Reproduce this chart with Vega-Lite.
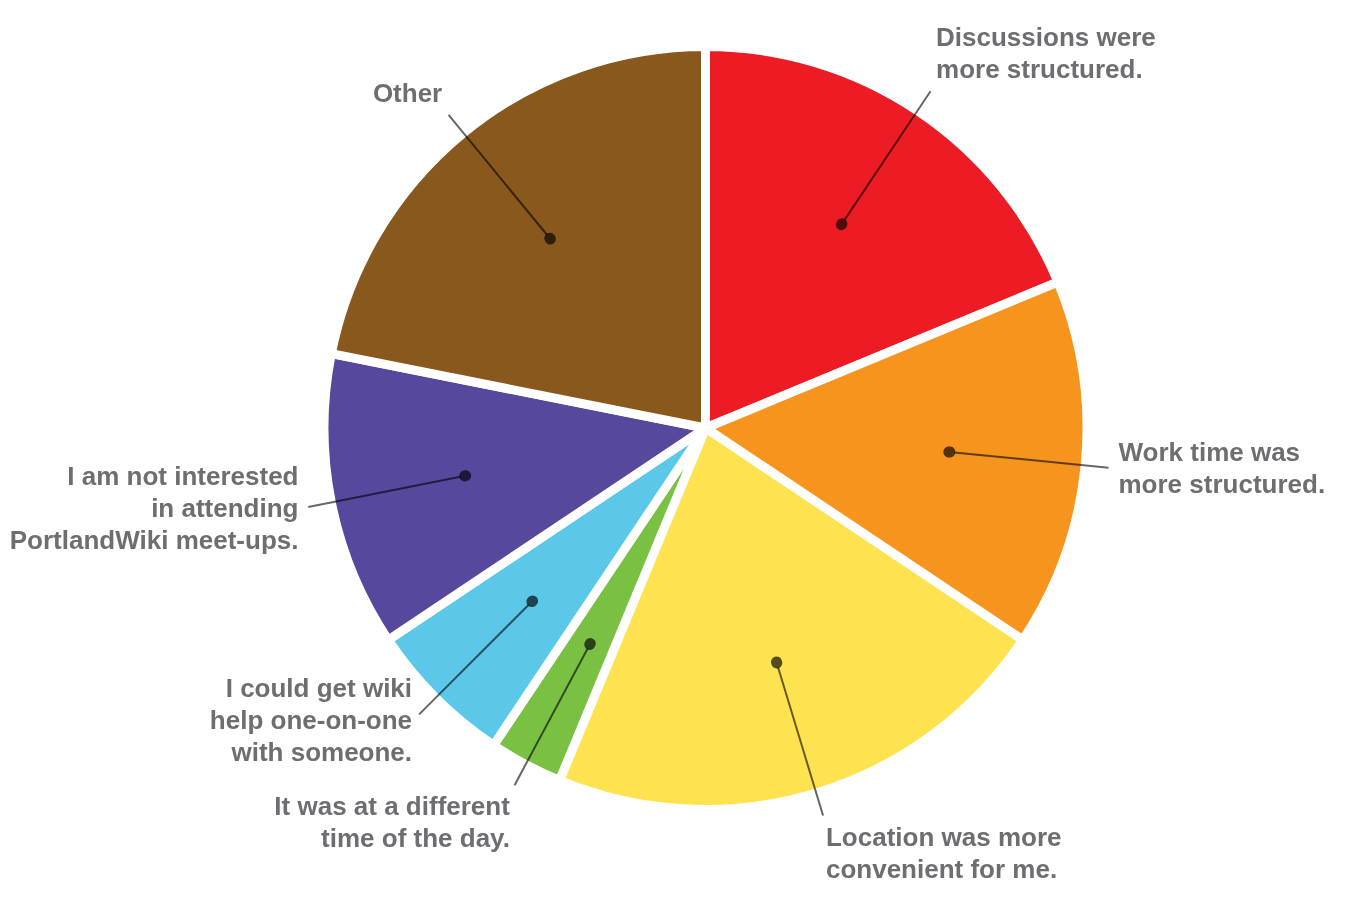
{
  "$schema": "https://vega.github.io/schema/vega-lite/v6.json",
  "width": 760,
  "height": 760,
  "autosize": {"type": "none"},
  "padding": {"left": 325.5, "top": 48, "right": 263.5, "bottom": 95},
  "background": "white",
  "config": {"view": {"stroke": null}},
  "data": {
    "values": [
      {"reason": "Discussions were\nmore structured.", "count": 6},
      {"reason": "Work time was\nmore structured.", "count": 5},
      {"reason": "Location was more\nconvenient for me.", "count": 7},
      {"reason": "It was at a different\ntime of the day.", "count": 1},
      {"reason": "I could get wiki\nhelp one-on-one\nwith someone.", "count": 2},
      {"reason": "I am not interested\nin attending\nPortlandWiki meet-ups.", "count": 4},
      {"reason": "Other", "count": 7}
    ]
  },
  "transform": [
    {"window": [{"op": "row_number", "as": "rank"}]}
  ],
  "encoding": {
    "theta": {"field": "count", "type": "quantitative", "stack": true},
    "order": {"field": "rank", "type": "quantitative", "sort": "ascending"},
    "color": {
      "field": "reason",
      "type": "nominal",
      "scale": {
        "domain": [
          "Discussions were\nmore structured.",
          "Work time was\nmore structured.",
          "Location was more\nconvenient for me.",
          "It was at a different\ntime of the day.",
          "I could get wiki\nhelp one-on-one\nwith someone.",
          "I am not interested\nin attending\nPortlandWiki meet-ups.",
          "Other"
        ],
        "range": ["#ED1C24", "#F7941D", "#FFE24F", "#7AC143", "#5BC8E9", "#55489D", "#88581C"]
      },
      "legend": null
    }
  },
  "layer": [
    {
      "mark": {"type": "arc", "outerRadius": 381.5, "stroke": "white", "strokeWidth": 9}
    },
    {
      "mark": {"type": "arc", "innerRadius": 250, "outerRadius": 405, "padAngle": 3.1, "filled": false, "strokeWidth": 2, "blend": "multiply"},
      "encoding": {"stroke": {"value": "#666666"}}
    },
    {
      "mark": {"type": "arc", "innerRadius": 244.5, "outerRadius": 245.5, "padAngle": 3.1, "filled": false, "strokeWidth": 11, "strokeJoin": "round", "strokeCap": "round", "blend": "multiply"},
      "encoding": {"stroke": {"value": "#555555"}}
    },
    {
      "mark": {
        "type": "text",
        "radius": 415,
        "font": "Liberation Sans",
        "fontWeight": "bold",
        "fontSize": 26,
        "lineHeight": 32,
        "lineBreak": "\n",
        "align": {"expr": "sin(scale('theta', (datum.count_start + datum.count_end) / 2)) > 0 ? 'left' : 'right'"},
        "baseline": {"expr": "cos(scale('theta', (datum.count_start + datum.count_end) / 2)) > 0.6 ? 'bottom' : (cos(scale('theta', (datum.count_start + datum.count_end) / 2)) < -0.75 ? 'top' : 'middle')"},
        "dy": {"expr": "(length(split(datum.reason, '\\n')) - 1) * 32 * (cos(scale('theta', (datum.count_start + datum.count_end) / 2)) > 0.6 ? -1 : (cos(scale('theta', (datum.count_start + datum.count_end) / 2)) < -0.75 ? 0 : -0.5))"}
      },
      "encoding": {
        "text": {"field": "reason", "type": "nominal"},
        "fill": {"value": "#6D6E71"}
      }
    }
  ]
}
